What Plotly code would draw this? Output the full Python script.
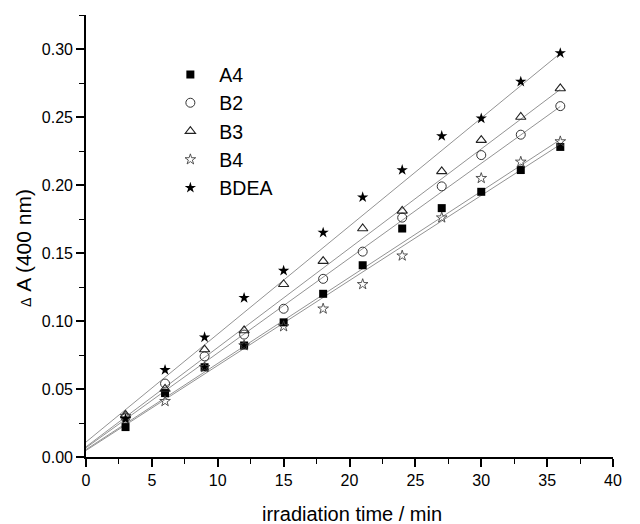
import numpy as np
import plotly.graph_objects as go

time_min = [3, 6, 9, 12, 15, 18, 21, 24, 27, 30, 33, 36]
A4 = [0.022, 0.047, 0.066, 0.082, 0.099, 0.120, 0.141, 0.168, 0.183, 0.195, 0.211, 0.228]
B2 = [0.029, 0.054, 0.074, 0.090, 0.109, 0.131, 0.151, 0.176, 0.199, 0.222, 0.237, 0.258]
B3 = [0.031, 0.050, 0.079, 0.093, 0.127, 0.144, 0.168, 0.181, 0.210, 0.233, 0.250, 0.271]
B4 = [0.030, 0.041, 0.066, 0.082, 0.096, 0.109, 0.127, 0.148, 0.176, 0.205, 0.217, 0.232]
BDEA = [0.028, 0.064, 0.088, 0.117, 0.137, 0.165, 0.191, 0.211, 0.236, 0.249, 0.276, 0.297]

# linear-fit parameters
series_names = ["A4", "B2", "B3", "B4", "BDEA"]
fit_intercept = [0.0048, 0.0068, 0.0075, 0.0055, 0.0110]
fit_slope = [0.00625, 0.00697, 0.00730, 0.00633, 0.00794]
fit_range = [0, 36]

series = [
    ("A4", A4, dict(symbol="square", size=8, color="black", line=dict(width=0))),
    ("B2", B2, dict(symbol="circle-open", size=9, color="#333", line=dict(width=1))),
    ("B3", B3, dict(symbol="triangle-up-open", size=9, color="#222", line=dict(width=1.1))),
    ("B4", B4, dict(symbol="star-open", size=8, color="#444", line=dict(width=0.9))),
    ("BDEA", BDEA, dict(symbol="star", size=8.5, color="black", line=dict(width=0))),
]

fig = go.Figure()
fit_x = np.array(fit_range, dtype=float)
for i, name in enumerate(series_names):
    fig.add_trace(go.Scatter(x=fit_x, y=fit_intercept[i] + fit_slope[i] * fit_x,
                             mode="lines", line=dict(color="#808080", width=0.85),
                             showlegend=False, hoverinfo="skip"))
for name, ys, mk in series:
    fig.add_trace(go.Scatter(x=time_min, y=ys, mode="markers", name=name,
                             marker=mk, cliponaxis=False))

font = "Liberation Sans, Arial, sans-serif"
fig.update_layout(
    width=632, height=516,
    margin=dict(l=78, r=27, t=7, b=67),
    plot_bgcolor="white", paper_bgcolor="white",
    font=dict(family=font, color="black", size=16),
    legend=dict(x=0.143, y=0.909, xanchor="left", yanchor="top",
                font=dict(size=19.5), bgcolor="rgba(0,0,0,0)",
                itemwidth=48, tracegroupgap=0),
    xaxis=dict(range=[0, 40], showgrid=False, zeroline=False, automargin=False,
               showline=True, linecolor="black", linewidth=1.6,
               ticks="outside", ticklen=8, tickwidth=1.5, tickcolor="black",
               dtick=5, tick0=0,
               minor=dict(ticks="outside", ticklen=5, tickwidth=1.2,
                          tickcolor="black", dtick=2.5)),
    yaxis=dict(range=[0, 0.325], showgrid=False, zeroline=False, automargin=False,
               showline=True, linecolor="black", linewidth=1.6,
               ticks="outside", ticklen=8, tickwidth=1.5, tickcolor="black",
               dtick=0.05, tick0=0, tickformat=".2f",
               minor=dict(ticks="outside", ticklen=5, tickwidth=1.2,
                          tickcolor="black", dtick=0.025)),
    annotations=[
        dict(text="irradiation time / min", xref="paper", yref="paper",
             x=0.505, y=0, yshift=-57, xanchor="center", yanchor="middle",
             showarrow=False, font=dict(size=20)),
        dict(text="<span style='font-size:14px'>Δ</span> A (400 nm)",
             xref="paper", yref="paper", x=0, xshift=-62, y=0.473,
             xanchor="center", yanchor="middle", textangle=-90,
             showarrow=False, font=dict(size=21)),
    ],
)

fig.write_html("out.html")
